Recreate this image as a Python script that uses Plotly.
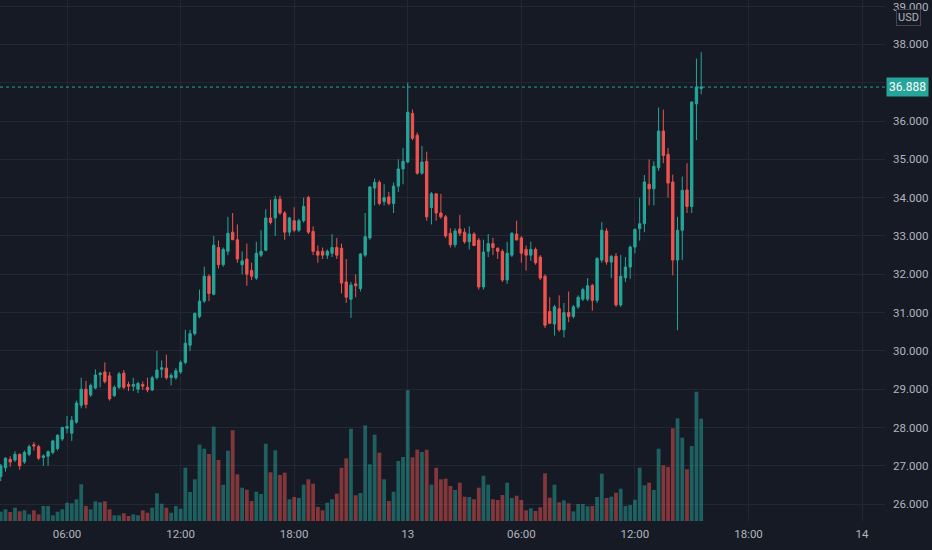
import pandas as pd
import plotly.graph_objects as go

# 15-minute candles, 12th 02:30 -> 13th 15:30
times = pd.date_range("2022-09-12 02:30", periods=149, freq="15min")

opens = [
    26.72, 26.95, 27.17, 27.15, 27.30, 27.10, 27.30, 27.55, 27.50, 27.22,
    27.25, 27.35, 27.45, 27.70, 27.98, 27.85, 28.14, 28.58, 29.00, 28.85,
    29.03, 29.38, 29.45, 29.35, 28.83, 29.05, 29.42, 29.12, 29.08, 29.00,
    29.12, 29.05, 28.98, 29.30, 29.52, 29.55, 29.30, 29.30, 29.45, 29.70,
    30.15, 30.45, 30.90, 31.30, 31.95, 31.48, 32.70, 32.25, 32.60, 33.10,
    32.90, 32.25, 32.40, 32.10, 31.90, 32.50, 32.63, 33.47, 33.47, 33.96,
    33.60, 33.10, 33.40, 33.15, 33.40, 34.00, 33.12, 32.60, 32.60, 32.50,
    32.55, 32.70, 32.68, 31.80, 31.35, 31.75, 31.63, 32.50, 32.95, 34.25,
    34.40, 33.90, 34.02, 33.85, 34.30, 34.75, 34.93, 36.20, 35.63, 34.64,
    34.95, 33.74, 34.10, 33.60, 33.50, 33.07, 32.77, 33.18, 33.10, 32.85,
    33.05, 32.89, 31.67, 32.60, 32.80, 32.68, 32.60, 31.85, 32.50, 33.05,
    32.95, 32.65, 32.50, 32.65, 32.45, 31.95, 31.03, 30.70, 31.10, 30.55,
    31.00, 30.90, 31.15, 31.35, 31.35, 31.71, 31.32, 32.37, 33.13, 32.32,
    32.47, 31.20, 31.91, 32.19, 32.71, 33.19, 33.32, 34.35, 34.23, 34.78,
    35.74, 35.13, 34.41, 32.37, 33.15, 34.20, 33.77, 36.45, 36.85,
]
highs = [
    27.05, 27.22, 27.25, 27.38, 27.32, 27.40, 27.55, 27.62, 27.55, 27.30,
    27.40, 27.68, 27.82, 28.02, 28.30, 28.30, 28.70, 29.30, 29.22, 29.15,
    29.52, 29.45, 29.70, 29.45, 29.10, 29.45, 29.50, 29.20, 29.30, 29.20,
    29.20, 29.30, 29.35, 30.00, 29.75, 29.90, 29.42, 29.55, 29.75, 30.55,
    30.55, 31.00, 31.60, 32.20, 32.00, 33.00, 32.88, 32.70, 33.50, 33.60,
    33.30, 32.60, 32.80, 32.30, 32.85, 33.15, 33.70, 33.95, 34.05, 34.05,
    33.65, 33.50, 33.75, 33.45, 34.00, 34.05, 33.25, 32.75, 32.70, 32.65,
    33.05, 32.95, 32.80, 32.40, 31.80, 32.00, 32.55, 33.60, 34.30, 34.50,
    34.45, 34.35, 34.15, 34.40, 35.00, 35.30, 37.00, 36.30, 35.70, 35.35,
    35.20, 34.15, 34.10, 34.10, 33.55, 33.20, 33.20, 33.55, 33.20, 33.25,
    33.10, 32.95, 32.90, 33.05, 32.95, 32.70, 32.65, 32.85, 33.10, 33.40,
    33.00, 32.75, 32.85, 32.70, 32.50, 32.00, 31.40, 31.20, 31.45, 31.25,
    31.55, 31.20, 31.45, 31.65, 31.90, 31.75, 32.45, 33.36, 33.20, 32.50,
    32.55, 32.50, 32.45, 32.75, 33.20, 34.00, 34.59, 35.00, 34.95, 36.35,
    36.30, 35.30, 34.60, 33.50, 34.55, 34.90, 36.50, 37.63, 37.80,
]
lows = [
    26.60, 26.85, 26.98, 27.10, 26.90, 27.05, 27.25, 27.40, 27.15, 27.00,
    27.00, 27.30, 27.40, 27.65, 27.85, 27.65, 28.10, 28.50, 28.50, 28.80,
    29.00, 29.05, 29.15, 28.70, 28.80, 29.00, 29.00, 28.95, 28.95, 28.90,
    28.98, 28.92, 28.95, 29.25, 29.30, 29.25, 29.10, 29.25, 29.40, 29.65,
    30.00, 30.40, 30.85, 31.25, 31.30, 31.45, 32.15, 32.20, 32.50, 32.90,
    32.30, 32.00, 31.70, 31.85, 31.85, 32.45, 32.60, 33.30, 33.00, 33.55,
    32.90, 33.00, 33.10, 33.10, 33.35, 33.05, 32.50, 32.30, 32.40, 32.40,
    32.45, 32.40, 31.50, 31.25, 30.86, 31.40, 31.55, 32.45, 32.90, 33.80,
    33.80, 33.80, 33.80, 33.60, 34.15, 34.35, 34.90, 35.50, 34.60, 34.60,
    33.40, 33.30, 33.40, 33.45, 32.95, 32.70, 32.70, 33.00, 32.80, 32.65,
    32.75, 31.60, 31.60, 32.45, 32.50, 32.40, 31.80, 31.75, 32.45, 32.88,
    32.30, 32.10, 32.35, 32.25, 31.85, 30.60, 30.70, 30.40, 30.50, 30.35,
    30.75, 30.85, 31.10, 31.30, 31.30, 31.05, 31.25, 32.30, 32.25, 31.90,
    31.15, 31.15, 31.80, 31.88, 32.55, 32.88, 33.10, 33.80, 33.80, 34.70,
    34.90, 34.00, 31.97, 30.54, 32.37, 33.60, 33.60, 35.50, 36.70,
]
closes = [
    27.00, 27.20, 27.10, 27.30, 27.00, 27.35, 27.50, 27.52, 27.20, 27.26,
    27.37, 27.65, 27.80, 28.00, 28.03, 28.19, 28.64, 29.00, 28.60, 29.10,
    29.37, 29.42, 29.20, 28.75, 29.05, 29.40, 29.05, 29.08, 29.12, 29.15,
    29.08, 28.98, 29.30, 29.50, 29.56, 29.30, 29.36, 29.48, 29.70, 30.20,
    30.45, 30.98, 31.30, 31.95, 31.50, 32.76, 32.25, 32.65, 33.07, 32.90,
    32.40, 32.35, 32.00, 31.95, 32.55, 32.60, 33.47, 33.35, 33.96, 33.60,
    33.10, 33.47, 33.15, 33.40, 33.77, 33.10, 32.60, 32.50, 32.50, 32.60,
    32.70, 32.50, 31.77, 31.40, 31.72, 31.70, 32.53, 32.98, 34.28, 34.40,
    33.85, 34.00, 33.85, 34.30, 34.75, 34.95, 36.23, 35.55, 34.64, 34.93,
    33.50, 34.10, 33.60, 33.50, 33.00, 32.77, 33.13, 33.07, 32.85, 33.05,
    32.75, 31.67, 32.58, 32.80, 32.70, 32.60, 31.85, 32.55, 33.07, 32.90,
    32.55, 32.50, 32.65, 32.30, 31.90, 30.67, 30.72, 31.15, 30.55, 31.00,
    30.90, 31.15, 31.40, 31.60, 31.70, 31.32, 32.41, 33.15, 32.32, 32.47,
    31.20, 31.95, 32.19, 32.71, 33.17, 33.32, 34.41, 34.23, 34.82, 35.74,
    35.10, 34.38, 32.37, 33.15, 34.19, 33.77, 36.50, 36.89, 36.888,
]
volumes = [
    9.3, 11.7, 9.0, 13.3, 9.7, 10.7, 6.7, 10.7, 6.7, 15.0,
    15.0, 5.7, 9.3, 11.7, 18.3, 17.7, 21.7, 36.7, 15.0, 11.7,
    19.7, 18.7, 19.7, 11.7, 5.7, 5.7, 7.7, 5.0, 6.7, 5.7,
    10.7, 8.3, 13.3, 27.7, 17.3, 13.3, 8.3, 15.0, 12.3, 53.3,
    29.0, 41.7, 76.3, 72.3, 67.0, 94.3, 61.0, 36.3, 70.3, 90.7,
    46.7, 33.3, 31.3, 20.0, 29.3, 27.0, 77.3, 48.7, 70.7, 46.0,
    48.3, 21.7, 24.0, 23.0, 36.3, 41.7, 37.3, 14.0, 10.7, 18.3,
    21.7, 27.3, 53.3, 62.7, 92.3, 25.7, 28.0, 95.7, 56.7, 86.3,
    68.3, 41.7, 20.0, 29.3, 60.0, 64.0, 130.7, 63.7, 71.3, 69.0,
    71.3, 36.3, 53.3, 41.7, 42.3, 35.0, 31.0, 38.3, 24.3, 24.0,
    21.7, 33.3, 45.3, 36.3, 21.7, 21.0, 26.0, 38.3, 23.0, 25.3,
    21.0, 10.7, 12.7, 10.0, 13.7, 47.7, 23.3, 36.3, 18.7, 20.7,
    17.7, 9.7, 17.0, 17.0, 14.7, 15.0, 24.0, 47.3, 23.0, 24.3,
    28.3, 32.3, 15.0, 16.0, 21.3, 53.3, 35.7, 38.3, 31.0, 72.3,
    55.7, 54.0, 92.7, 102.7, 83.3, 51.7, 75.0, 129.3, 102.3,
]
last_price = 36.888

tick_times = ["2022-09-12 06:00", "2022-09-12 12:00", "2022-09-12 18:00", "2022-09-13 00:00",
              "2022-09-13 06:00", "2022-09-13 12:00", "2022-09-13 18:00", "2022-09-14 00:00"]
tick_text = ["06:00", "12:00", "18:00", "13", "06:00", "12:00", "18:00", "14"]
price_ticks = [26, 27, 28, 29, 30, 31, 32, 33, 34, 35, 36, 37, 38, 39]

BG = "#161a25"
GRID = "#242733"
TXT = "#b2b5be"
UP = "#26a69a"
DOWN = "#ef5350"

vol_colors = ["rgba(38,166,154,0.5)" if c >= o else "rgba(239,83,80,0.5)"
              for o, c in zip(opens, closes)]

fig = go.Figure()

# volume underneath, on its own hidden axis
fig.add_trace(go.Bar(x=times, y=volumes, marker_color=vol_colors, marker_line_width=0,
                     yaxis="y", hoverinfo="skip"))

fig.add_trace(go.Candlestick(
    x=times, open=opens, high=highs, low=lows, close=closes, yaxis="y2",
    increasing=dict(line=dict(color=UP, width=1), fillcolor=UP),
    decreasing=dict(line=dict(color=DOWN, width=1), fillcolor=DOWN),
))

# last price line + label
fig.add_shape(type="line", xref="paper", x0=0, x1=1, yref="y2", y0=last_price, y1=last_price,
              line=dict(color=UP, width=1, dash="dot"))
fig.add_annotation(xref="paper", x=1, yref="y2", y=last_price, text="36.888", showarrow=False,
                   xanchor="left", xshift=1, bgcolor=UP, borderpad=2,
                   font=dict(color="white", size=12, family="Roboto"))
# top tick label is clipped by plotly, so put it back by hand (half hidden like the original)
fig.add_annotation(xref="paper", x=1, yref="y2", y=39, text="39.000", showarrow=False,
                   xanchor="left", xshift=6, yshift=-1,
                   font=dict(color=TXT, size=11.5, family="Roboto"))
fig.add_annotation(xref="paper", x=1, yref="paper", y=1, text="USD", showarrow=False,
                   xanchor="left", yanchor="top", xshift=11, yshift=-9,
                   bgcolor=BG, bordercolor="#434651", borderwidth=1, borderpad=1,
                   font=dict(color=TXT, size=11, family="Roboto"))

fig.update_layout(
    width=932, height=550,
    margin=dict(l=0, r=47, t=0, b=29),
    paper_bgcolor=BG, plot_bgcolor=BG,
    showlegend=False,
    bargap=0.2,
    font=dict(family="Roboto", size=11.5, color=TXT),
    xaxis=dict(
        type="date",
        range=["2022-09-12 02:27:36", "2022-09-14 01:12:36"],
        rangeslider=dict(visible=False),
        tickvals=tick_times, ticktext=tick_text,
        showgrid=True, gridcolor=GRID, gridwidth=1,
        zeroline=False, showline=False, ticks="", ticklabelstandoff=4,
    ),
    yaxis=dict(range=[0, 521], visible=False, showgrid=False, fixedrange=True),
    yaxis2=dict(
        overlaying="y", side="right",
        range=[25.56, 39.16],
        tickvals=price_ticks, tickformat=".3f",
        showgrid=True, gridcolor=GRID, gridwidth=1,
        zeroline=False, showline=False, ticks="", ticklabelstandoff=7,
    ),
)

# drop the default page margin so the chart fills the window
fig.write_html("out.html", config={"displayModeBar": False},
               post_script="document.body.style.margin='0';document.body.style.background='#161a25';")
